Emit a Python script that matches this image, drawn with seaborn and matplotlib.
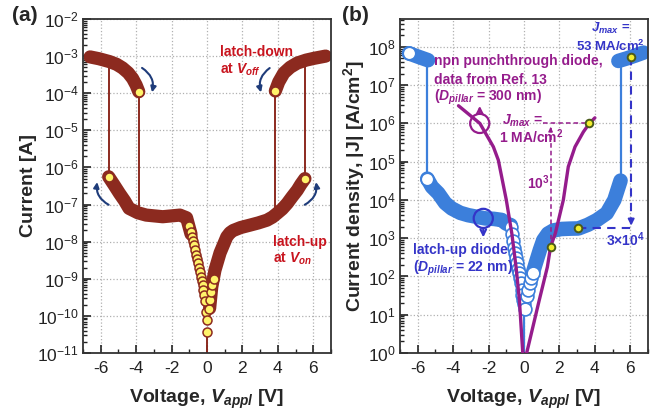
import numpy as np
import matplotlib
matplotlib.use("Agg")
import matplotlib.pyplot as plt
from matplotlib.ticker import LogLocator, MultipleLocator, NullFormatter
import seaborn as sns

# ---------------- panel (a): I-V of latch-up diode ----------------
hi_neg_v = [-3.85, -4.0, -4.2, -4.45, -4.77, -5.1, -5.5, -6.1, -6.6]
hi_neg_i = [1.1e-4, 1.66e-4, 2.5e-4, 3.55e-4, 4.8e-4, 6.0e-4, 7.1e-4, 8.5e-4, 9.5e-4]
hi_pos_v = [3.86, 4.05, 4.34, 4.7, 5.1, 5.6, 6.04, 6.7]
hi_pos_i = [1.15e-4, 2.0e-4, 3.5e-4, 5.0e-4, 6.5e-4, 7.8e-4, 8.7e-4, 1.0e-3]
lo_neg_v = [-5.55, -5.25, -4.94, -4.65, -4.4, -3.9, -3.43, -2.5, -1.53, -1.15, -0.9]
lo_neg_i = [5.6e-7, 3.4e-7, 2.0e-7, 1.26e-7, 7.9e-8, 6.0e-8, 5.2e-8, 4.7e-8, 5.2e-8,
            4.4e-8, 1.6e-8]
lo_pos_v = [0.15, 0.27, 0.45, 0.74, 1.12, 1.3, 1.48, 1.9, 2.44, 2.9, 3.39, 3.7, 3.96,
            4.25, 4.53, 4.8, 5.1, 5.3, 5.53]
lo_pos_i = [1.6e-10, 6.0e-10, 1.7e-9, 5.0e-9, 1.35e-8, 1.74e-8, 2.0e-8, 2.4e-8, 2.8e-8,
            3.2e-8, 3.8e-8, 4.6e-8, 5.8e-8, 7.6e-8, 1.07e-7, 1.6e-7, 2.45e-7, 3.5e-7,
            5.0e-7]
dip_neg_v = [-1.0, -0.92, -0.86, -0.8, -0.74, -0.68, -0.62, -0.56, -0.5, -0.45, -0.4,
             -0.35, -0.3, -0.25, -0.2, -0.16, -0.11, -0.06, -0.01, 0.0]
dip_neg_i = [2.6e-8, 1.8e-8, 1.35e-8, 1.05e-8, 8.0e-9, 6.0e-9, 4.5e-9, 3.4e-9, 2.6e-9,
             2.0e-9, 1.5e-9, 1.15e-9, 8.8e-10, 6.6e-10, 5.0e-10, 3.6e-10, 2.5e-10,
             1.3e-10, 7.8e-11, 3.7e-11]
dip_pos_v = [0.1, 0.16, 0.22, 0.3, 0.38]
dip_pos_i = [1.5e-10, 2.6e-10, 4.3e-10, 7.0e-10, 1.0e-9]
jump_a_v = [-5.55, -3.85, 3.83, 5.55, 0.0]
jump_a_lo = [5.6e-7, 5.2e-8, 5.5e-8, 5.0e-7, 1e-12]
jump_a_hi = [7.1e-4, 1.1e-4, 1.15e-4, 7.5e-4, 3.7e-11]
ends_a_v = [-5.55, -3.85, 3.86, 5.53]
ends_a_i = [5.6e-7, 1.1e-4, 1.15e-4, 5.0e-7]

# ---------------- panel (b): current density ----------------
band_tl_v = [-6.5, -6.0, -5.42]
band_tl_j = [6.8e7, 5.6e7, 4.5e7]
band_tr_v = [5.33, 5.8, 6.3, 6.74]
band_tr_j = [4.3e7, 5.0e7, 6.0e7, 7.1e7]
band_l_v = [-5.46, -5.2, -4.84, -4.45, -4.08, -3.6, -3.15, -2.2, -1.7, -1.26, -1.0, -0.75]
band_l_j = [3.6e4, 2.2e4, 1.5e4, 8.3e3, 6.0e3, 4.6e3, 4.0e3, 3.3e3, 3.2e3, 3.0e3, 2.4e3,
            2.2e3]
band_r_v = [0.5, 0.72, 0.9, 1.09, 1.35, 1.66, 2.1, 2.6, 3.07, 3.6, 4.1, 4.67, 5.1, 5.45]
band_r_j = [126, 270, 500, 890, 1320, 1600, 1740, 1780, 1800, 2240, 2950, 4500, 1.0e4,
            3.2e4]
open_v = [-0.75, -0.68, -0.61, -0.55, -0.49, -0.43, -0.38, -0.33, -0.28, -0.23, -0.18,
          -0.13, -0.09, -0.05, -0.01, 0.03, 0.15, 0.25, 0.34, 0.42, 0.5]
open_j = [2000, 1300, 850, 560, 420, 300, 224, 160, 120, 89, 66, 45, 33, 25, 19, 14,
          30, 45, 66, 90, 126]
ends_b_v = [-6.5, -5.46]
ends_b_j = [6.8e7, 3.6e4]
jump_b_v = [-5.46, 5.5, 0.0]
jump_b_lo = [3.6e4, 3.4e4, 0.3]
jump_b_hi = [4.5e7, 4.3e7, 14]
npn_l_v = [-3.7, -2.49, -1.73, -1.45, -1.26, -1.0, -0.69, -0.45, -0.26, -0.07, -0.02]
npn_l_j = [2.9e6, 1.0e6, 2.45e5, 1.1e5, 4.0e4, 1.0e4, 1350, 178, 24, 1.0, 0.5]
npn_r_v = [0.08, 0.15, 0.86, 1.32, 1.5, 1.77, 2.22, 2.5, 2.88, 3.35, 3.69, 4.0]
npn_r_j = [0.5, 1.0, 24, 178, 600, 1350, 1.0e4, 7.4e4, 2.45e5, 6.0e5, 1.0e6, 1.4e6]
mark_b_v = [1.5, 3.07, 3.69, 6.05]
mark_b_j = [600, 1800, 1.0e6, 5.4e7]

RED = "#8C2A1F"
RED_TXT = "#C8141E"
YEL = "#FFF36A"
NAVY = "#1F3C7A"
BLUE = "#3C7FDB"
BLUE_TXT = "#3434C8"
PURPLE = "#951C8C"
OLIVE = "#4A5A1A"

sns.set_style("ticks")
plt.rcParams["font.family"] = ["Liberation Sans", "DejaVu Sans"]
plt.rcParams["mathtext.fontset"] = "custom"
plt.rcParams["mathtext.rm"] = "Liberation Sans"
plt.rcParams["mathtext.it"] = "Liberation Sans:italic"
plt.rcParams["mathtext.bf"] = "Liberation Sans:bold"
plt.rcParams["mathtext.bfit"] = "Liberation Sans:italic:bold"
plt.rcParams["axes.unicode_minus"] = False

fig = plt.figure(figsize=(6.56, 4.2), dpi=100)
ax1 = fig.add_axes([0.1265, 0.1595, 0.378, 0.7953])
ax2 = fig.add_axes([0.6098, 0.1595, 0.378, 0.7953])


def style_axes(ax, ylim):
    ax.set_yscale("log")
    ax.set_xlim(-7, 7)
    ax.set_ylim(*ylim)
    ax.xaxis.set_major_locator(MultipleLocator(2))
    ax.xaxis.set_minor_locator(MultipleLocator(1))
    ax.yaxis.set_major_locator(LogLocator(base=10, numticks=30))
    ax.yaxis.set_minor_locator(LogLocator(base=10, subs=np.arange(2, 10), numticks=30))
    ax.yaxis.set_minor_formatter(NullFormatter())
    ax.tick_params(which="both", direction="in", labelsize=12.5, top=False, right=False,
                   colors="#222222")
    ax.tick_params(axis="x", pad=6)
    ax.tick_params(axis="y", pad=3)
    ax.tick_params(which="major", length=6, width=1.2)
    ax.tick_params(which="minor", length=3, width=1)
    ax.grid(True, which="major", ls=":", color="#b0b0b0", lw=0.9)
    for s in ax.spines.values():
        s.set_visible(True)
        s.set_linewidth(1.3)
        s.set_color("#333333")


def line(ax, x, y, **kw):
    sns.lineplot(x=x, y=y, ax=ax, sort=False, estimator=None, **kw)


# ---------- panel (a) ----------
style_axes(ax1, (1e-11, 1e-2))
for v, lo, hi in zip(jump_a_v, jump_a_lo, jump_a_hi):
    line(ax1, [v, v], [lo, hi], color=RED, linewidth=1.4, zorder=1)
for vx, iy in [(hi_neg_v, hi_neg_i), (hi_pos_v, hi_pos_i),
               (lo_neg_v, lo_neg_i), (lo_pos_v, lo_pos_i)]:
    line(ax1, vx, iy, color=RED, linewidth=9.5, solid_capstyle="round",
         solid_joinstyle="round", zorder=2)
for vx, iy in [(dip_neg_v, dip_neg_i), (dip_pos_v, dip_pos_i), (ends_a_v, ends_a_i)]:
    sns.scatterplot(x=vx, y=iy, ax=ax1, s=42, color=YEL, edgecolor=RED,
                    linewidth=1.1, zorder=4, legend=False)

arr = dict(arrowstyle="-|>", color=NAVY, lw=1.5, mutation_scale=8)
ax1.annotate("", xy=(-3.14, 10**-4.05), xytext=(-3.8, 10**-3.28),
             arrowprops=dict(arr, connectionstyle="arc3,rad=-0.4"))
ax1.annotate("", xy=(-6.17, 10**-6.32), xytext=(-5.41, 10**-7.04),
             arrowprops=dict(arr, connectionstyle="arc3,rad=-0.4"))
ax1.annotate("", xy=(3.1, 10**-4.05), xytext=(3.67, 10**-3.28),
             arrowprops=dict(arr, connectionstyle="arc3,rad=0.4"))
ax1.annotate("", xy=(6.13, 10**-6.32), xytext=(5.38, 10**-7.04),
             arrowprops=dict(arr, connectionstyle="arc3,rad=0.4"))

tk = dict(color=RED_TXT, fontsize=10, fontweight="bold", ha="left", va="center")
ax1.text(0.74, 1.3e-3, "latch-down", **tk)
ax1.text(0.74, 4.3e-4, r"at $\mathbfit{V}_{\mathbfit{off}}$", **tk)
ax1.text(3.75, 1.0e-8, "latch-up", **tk)
ax1.text(3.75, 3.5e-9, r"at $\mathbfit{V}_{\mathbfit{on}}$", **tk)

ax1.set_xlabel(r"Voltage, $\mathbfit{V}_{\mathbfit{appl}}$ [V]", fontsize=14,
               fontweight="bold")
ax1.set_ylabel("Current [A]", fontsize=14, fontweight="bold")
ax1.xaxis.set_label_coords(0.5, -0.105)
ax1.yaxis.set_label_coords(-0.185, 0.5)

# ---------- panel (b) ----------
style_axes(ax2, (1, 10**8.73))
for v, lo, hi in zip(jump_b_v, jump_b_lo, jump_b_hi):
    line(ax2, [v, v], [lo, hi], color=BLUE, linewidth=1.6, zorder=1)
for vx, jy in [(band_tl_v, band_tl_j), (band_tr_v, band_tr_j),
               (band_l_v, band_l_j), (band_r_v, band_r_j)]:
    line(ax2, vx, jy, color=BLUE, linewidth=10.5, solid_capstyle="round",
         solid_joinstyle="round", zorder=2)
sns.scatterplot(x=open_v, y=open_j, ax=ax2, s=85, color="white", edgecolor=BLUE,
                linewidth=1.2, zorder=3, legend=False)
sns.scatterplot(x=ends_b_v, y=ends_b_j, ax=ax2, s=85, color="white", edgecolor=BLUE,
                linewidth=1.4, zorder=4, legend=False)

line(ax2, npn_l_v, npn_l_j, color=PURPLE, linewidth=2.4, zorder=5)
line(ax2, npn_r_v, npn_r_j, color=PURPLE, linewidth=2.4, zorder=5)

# J_max guides
line(ax2, [mark_b_v[3], mark_b_v[3]], [mark_b_j[3], 2600], color=BLUE_TXT,
     linewidth=1.5, linestyle=(0, (4, 3)), zorder=6)
line(ax2, [mark_b_v[1], mark_b_v[3]], [mark_b_j[1], mark_b_j[1]], color=BLUE_TXT,
     linewidth=1.5, linestyle=(0, (4, 3)), zorder=6)
ax2.annotate("", xy=(mark_b_v[3], mark_b_j[1]), xytext=(mark_b_v[3], 3500),
             arrowprops=dict(arrowstyle="-|>", color=BLUE_TXT, lw=1.4, mutation_scale=9))
line(ax2, [1.1, mark_b_v[2]], [mark_b_j[2], mark_b_j[2]], color=PURPLE,
     linewidth=1.1, linestyle=(0, (3, 2)), zorder=6)
line(ax2, [mark_b_v[0], mark_b_v[0]], [mark_b_j[0], 8e5], color=PURPLE,
     linewidth=1.1, linestyle=(0, (3, 2)), zorder=6)
ax2.annotate("", xy=(mark_b_v[0], 9.5e5), xytext=(mark_b_v[0], 6e5),
             arrowprops=dict(arrowstyle="-|>", color=PURPLE, lw=1.0, mutation_scale=6))

sns.scatterplot(x=mark_b_v, y=mark_b_j, ax=ax2, s=30, color="#F2EE2E", edgecolor=OLIVE,
                linewidth=1.4, zorder=7, legend=False)

# highlight circles with arrows
ax2.scatter([-2.5], [1.0e6], s=190, facecolor="none", edgecolor=PURPLE, lw=1.6, zorder=7)
ax2.annotate("", xy=(-2.5, 3.4e6), xytext=(-2.5, 1.55e6),
             arrowprops=dict(arrowstyle="->", color=PURPLE, lw=1.6, mutation_scale=10))
ax2.scatter([-2.3], [3.3e3], s=190, facecolor="none", edgecolor=BLUE_TXT, lw=1.6, zorder=7)
ax2.annotate("", xy=(-2.3, 890), xytext=(-2.3, 2.1e3),
             arrowprops=dict(arrowstyle="->", color=BLUE_TXT, lw=1.6, mutation_scale=10))

tp = dict(color=PURPLE, fontsize=10, fontweight="bold", va="center")
ax2.text(-5.08, 4.2e7, "npn punchthrough diode,", ha="left", **tp)
ax2.text(-5.08, 1.4e7, "data from Ref. 13", ha="left", **tp)
ax2.text(-5.08, 4.9e6, r"($\mathbfit{D}_{\mathbfit{pillar}}$ = 300 nm)", ha="left", **tp)
ax2.text(1.09, 1.2e6, r"$\mathbfit{J}_{\mathbfit{max}}$ =", ha="right", **tp)
ax2.text(0.43, 4.5e5, r"1 MA/cm$^\mathbf{2}$", ha="center", **tp)
ax2.text(0.81, 2.8e4, r"10$^\mathbf{3}$", ha="center", **tp)

tb = dict(color=BLUE_TXT, fontsize=10, fontweight="bold", va="center")
ax2.text(4.9, 3.0e8, r"$\mathbfit{J}_{\mathbfit{max}}$ =", ha="center",
         **dict(tb, fontsize=9.5))
ax2.text(4.9, 1.05e8, r"53 MA/cm$^\mathbf{2}$", ha="center", **dict(tb, fontsize=9.5))
ax2.text(5.75, 890, r"3$\mathbf{\times}$10$^\mathbf{4}$", ha="center", **tb)
ax2.text(-6.25, 490, "latch-up diode", ha="left", **tb)
ax2.text(-6.25, 163, r"($\mathbfit{D}_{\mathbfit{pillar}}$ = 22 nm)", ha="left", **tb)

ax2.set_xlabel(r"Voltage, $\mathbfit{V}_{\mathbfit{appl}}$ [V]", fontsize=14,
               fontweight="bold")
ax2.set_ylabel(r"Current density, |J| [A/cm$^\mathbf{2}$]", fontsize=14,
               fontweight="bold")
ax2.xaxis.set_label_coords(0.5, -0.105)
ax2.yaxis.set_label_coords(-0.133, 0.5)

fig.text(0.018, 0.964, "(a)", fontsize=15, fontweight="bold", va="center")
fig.text(0.521, 0.964, "(b)", fontsize=15, fontweight="bold", va="center")

fig.savefig("out.png", dpi=100)
